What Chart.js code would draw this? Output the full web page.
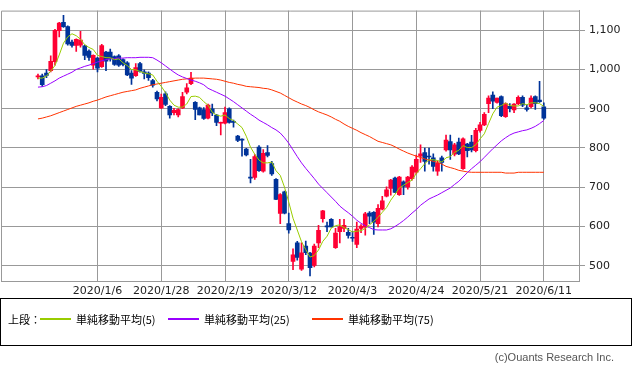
<!DOCTYPE html>
<html><head><meta charset="utf-8">
<script src="https://cdn.jsdelivr.net/npm/chart.js@4"></script>
<style>
html,body{margin:0;padding:0;background:#fff;}
#wrap{position:relative;width:633px;height:374px;overflow:hidden;font-family:"Noto Sans CJK JP",sans-serif;}
canvas{position:absolute;left:0;top:0;}
#legend{position:absolute;left:0;top:298px;width:630px;height:46px;border:1px solid #000;}
.lt{position:absolute;top:13px;font-size:11px;line-height:14px;color:#000;white-space:nowrap;}
.ll{position:absolute;top:19px;height:2px;width:31px;}
#copy{position:absolute;right:19px;top:350px;font:11px "Liberation Sans",sans-serif;line-height:14px;color:#555;white-space:nowrap;}
</style></head>
<body><div id="wrap"><canvas id="c" width="633" height="374"></canvas>
<div id="legend">
<span class="lt" style="left:7px">上段：</span>
<div class="ll" style="left:39px;background-color:#99cc00"></div>
<span class="lt" style="left:75px">単純移動平均(5)</span>
<div class="ll" style="left:167px;background-color:#9900ff"></div>
<span class="lt" style="left:203px">単純移動平均(25)</span>
<div class="ll" style="left:311px;background-color:#ff3300"></div>
<span class="lt" style="left:347px">単純移動平均(75)</span>
</div>
<div id="copy">(c)Ouants Research Inc.</div>
</div>
<script>
const dates = [
"2019/12/11","2019/12/12","2019/12/13","2019/12/16","2019/12/17","2019/12/18","2019/12/19","2019/12/20","2019/12/23","2019/12/24",
"2019/12/25","2019/12/26","2019/12/27","2019/12/30","2020/1/6","2020/1/7","2020/1/8","2020/1/9","2020/1/10","2020/1/14",
"2020/1/15","2020/1/16","2020/1/17","2020/1/20","2020/1/21","2020/1/22","2020/1/23","2020/1/24","2020/1/27","2020/1/28",
"2020/1/29","2020/1/30","2020/1/31","2020/2/3","2020/2/4","2020/2/5","2020/2/6","2020/2/7","2020/2/10","2020/2/12",
"2020/2/13","2020/2/14","2020/2/17","2020/2/18","2020/2/19","2020/2/20","2020/2/21","2020/2/25","2020/2/26","2020/2/27",
"2020/2/28","2020/3/2","2020/3/3","2020/3/4","2020/3/5","2020/3/6","2020/3/9","2020/3/10","2020/3/11","2020/3/12",
"2020/3/13","2020/3/16","2020/3/17","2020/3/18","2020/3/19","2020/3/23","2020/3/24","2020/3/25","2020/3/26","2020/3/27",
"2020/3/30","2020/3/31","2020/4/1","2020/4/2","2020/4/3","2020/4/6","2020/4/7","2020/4/8","2020/4/9","2020/4/10",
"2020/4/13","2020/4/14","2020/4/15","2020/4/16","2020/4/17","2020/4/20","2020/4/21","2020/4/22","2020/4/23","2020/4/24",
"2020/4/27","2020/4/28","2020/4/30","2020/5/1","2020/5/7","2020/5/8","2020/5/11","2020/5/12","2020/5/13","2020/5/14",
"2020/5/15","2020/5/18","2020/5/19","2020/5/20","2020/5/21","2020/5/22","2020/5/25","2020/5/26","2020/5/27","2020/5/28",
"2020/5/29","2020/6/1","2020/6/2","2020/6/3","2020/6/4","2020/6/5","2020/6/8","2020/6/9","2020/6/10","2020/6/11"];

const openP = [
981,984,991,997,1020,1099,1120,1109,1070,1061,
1062,1060,1047,1011,1029,1007,1044,1044,1033,1035,
1025,1017,991,984,1015,994,991,972,942,902,
938,906,890,884,902,942,964,916,902,898,
876,900,884,863,863,900,866,830,821,797,
724,725,802,741,788,760,720,633,688,607,
511,558,491,550,532,501,558,620,600,618,
546,587,595,585,571,554,595,598,634,636,
607,644,677,697,723,681,714,701,722,738,
779,788,778,775,741,775,795,816,784,815,
747,810,815,793,845,859,913,935,916,931,
880,906,897,913,929,902,905,931,922,905];

const highP = [
988,988,1000,1035,1102,1120,1138,1111,1075,1078,
1097,1062,1050,1037,1031,1064,1046,1052,1035,1038,
1027,1020,997,1015,1018,999,994,975,945,937,
943,908,901,900,942,964,993,918,904,903,
912,912,886,866,904,902,871,832,823,799,
771,783,806,796,806,766,722,684,690,634,
543,562,558,563,534,555,603,641,611,620,
595,618,618,595,587,611,605,636,638,638,
656,677,701,720,726,728,716,728,755,782,
808,800,800,785,767,779,833,833,812,825,
826,812,832,850,865,890,933,943,927,933,
915,913,913,933,933,910,933,933,970,915];

const lowP = [
976,957,979,994,1011,1083,1107,1062,1057,1046,
1057,1025,1023,1001,994,1005,997,1021,1010,1008,
1009,984,962,982,993,976,972,955,920,900,
908,876,884,879,900,938,961,872,884,873,
874,882,857,833,861,863,853,816,779,780,
711,720,740,738,777,730,668,607,632,583,
490,514,488,528,474,497,546,611,587,598,
544,558,587,570,562,546,584,578,607,580,
599,642,675,680,686,679,681,695,718,734,
763,741,759,741,730,741,792,771,780,783,
745,777,790,790,840,857,890,900,914,880,
878,892,890,910,905,894,902,898,916,873];

const closeP = [
984,961,985,1021,1100,1118,1109,1065,1061,1077,
1075,1036,1031,1036,1003,1061,1021,1027,1013,1011,
1013,986,978,1005,995,990,979,960,925,929,
911,884,896,898,931,953,978,898,884,875,
909,889,865,865,890,865,865,819,820,782,
723,778,742,786,781,734,669,681,634,591,
528,521,533,533,495,550,590,640,599,599,
583,599,603,577,570,593,601,632,626,611,
646,665,693,718,687,726,702,726,751,771,
785,766,777,753,761,763,820,795,808,785,
823,793,795,845,859,886,927,919,927,882,
913,900,912,929,909,898,927,913,918,876];

const ma5 = [
978,978,983,996,1010,1037,1067,1083,1091,1086,
1077,1063,1056,1051,1036,1033,1030,1030,1025,1027,
1017,1010,1000,999,995,991,989,986,970,957,
941,922,909,904,904,912,931,932,929,918,
909,891,884,881,884,875,870,861,852,830,
802,784,769,762,762,764,742,730,700,662,
621,591,561,541,522,526,540,562,575,596,
602,604,597,592,586,588,589,595,604,613,
623,636,648,667,682,698,705,712,718,735,
747,760,770,770,768,764,775,778,789,794,
806,801,801,808,823,836,862,887,904,908,
914,908,907,907,913,910,915,915,913,906];

const ma25 = [
955,956,959,965,971,978,983,988,993,1000,
1004,1008,1011,1015,1019,1022,1025,1027,1028,1029,
1029,1030,1030,1030,1031,1031,1031,1030,1024,1017,
1009,1001,993,986,981,977,973,970,966,961,
952,947,942,937,932,925,918,910,902,894,
886,879,871,865,859,852,846,838,826,812,
795,778,762,748,735,722,708,697,686,675,
664,652,643,635,626,616,608,602,597,592,
591,591,591,594,600,607,615,624,634,643,
654,662,670,675,680,686,692,698,707,715,
726,737,747,756,765,776,787,798,808,818,
826,833,838,841,844,846,850,855,862,870];

const ma75 = [
874,876,879,882,886,890,894,898,902,906,
909,912,915,919,922,926,930,933,936,939,
942,944,946,948,952,955,958,961,963,965,
967,969,971,973,975,976,977,978,978,978,
977,976,975,973,970,967,965,962,960,957,
956,955,954,952,951,948,944,940,934,928,
922,917,912,908,903,897,892,888,884,879,
873,868,861,855,850,845,839,834,829,823,
817,814,811,808,803,797,792,787,783,779,
776,772,769,766,763,759,753,750,747,743,
741,739,738,738,738,738,738,738,738,738,
736,736,736,738,738,738,738,738,738,738];

const xTickLabels = ["2020/1/6","2020/1/28","2020/2/19","2020/3/12","2020/4/3","2020/4/24","2020/5/21","2020/6/11"];
const yTickValues = [500,600,700,800,900,1000,1100];

const RED = '#ff0033', BLUE = '#003399', GRID = '#999999';
const colorAt = i => closeP[i] >= openP[i] ? RED : BLUE;
const wickData = dates.map((d, i) => ({x: i, y: [lowP[i], highP[i]]}));
const bodyData = dates.map((d, i) => ({x: i, y: [openP[i], closeP[i]]}));
const asLine = arr => arr.map((v, i) => ({x: i, y: v}));

const framePlugin = {
  id: 'frame',
  beforeDatasetsDraw(chart) {
    const a = chart.chartArea, ctx = chart.ctx;
    ctx.save();
    ctx.strokeStyle = GRID; ctx.lineWidth = 1;
    ctx.beginPath();
    ctx.moveTo(a.left + 0.5, a.bottom); ctx.lineTo(a.left + 0.5, a.top + 0.5);
    ctx.lineTo(a.right, a.top + 0.5);
    ctx.stroke();
    ctx.restore();
  }
};

Chart.defaults.font.family = '"DejaVu Sans", sans-serif';
Chart.defaults.font.size = 11;
Chart.defaults.color = '#222';

new Chart(document.getElementById('c'), {
  type: 'bar',
  data: {
    datasets: [
      {type: 'line', data: asLine(ma5), borderColor: '#99cc00', borderWidth: 1, pointRadius: 0, fill: false, order: 0},
      {type: 'line', data: asLine(ma25), borderColor: '#9900ff', borderWidth: 1, pointRadius: 0, fill: false, order: 0},
      {type: 'line', data: asLine(ma75), borderColor: '#ff3300', borderWidth: 1, pointRadius: 0, fill: false, order: 0},
      {data: bodyData, backgroundColor: ctx => colorAt(ctx.dataIndex), barThickness: 4, minBarLength: 1, grouped: false, borderWidth: 0, order: 1},
      {data: wickData, backgroundColor: ctx => colorAt(ctx.dataIndex), barThickness: 1, grouped: false, borderWidth: 0, order: 2}
    ]
  },
  options: {
    responsive: false,
    animation: false,
    events: [],
    layout: {padding: {left: 1, top: 1, right: 0, bottom: 73}},
    plugins: {legend: {display: false}, tooltip: {enabled: false}},
    scales: {
      x: {
        type: 'linear', min: -8.7, max: 127.28, offset: false,
        afterBuildTicks: s => { s.ticks = xTickLabels.map(l => ({value: dates.indexOf(l)})); },
        afterFit: s => { s.height = 20; },
        ticks: {autoSkip: false, maxRotation: 0, padding: 4, callback: v => dates[v]},
        grid: {color: GRID, drawTicks: false, offset: false},
        border: {color: GRID}
      },
      y: {
        position: 'right', min: 461, max: 1150,
        afterBuildTicks: s => { s.ticks = yTickValues.map(v => ({value: v})); },
        afterFit: s => { s.width = 54; },
        ticks: {padding: 4, callback: v => v.toLocaleString('en-US')},
        grid: {color: GRID, tickLength: 6},
        border: {color: GRID}
      }
    }
  },
  plugins: [framePlugin]
});
</script>
</body></html>
